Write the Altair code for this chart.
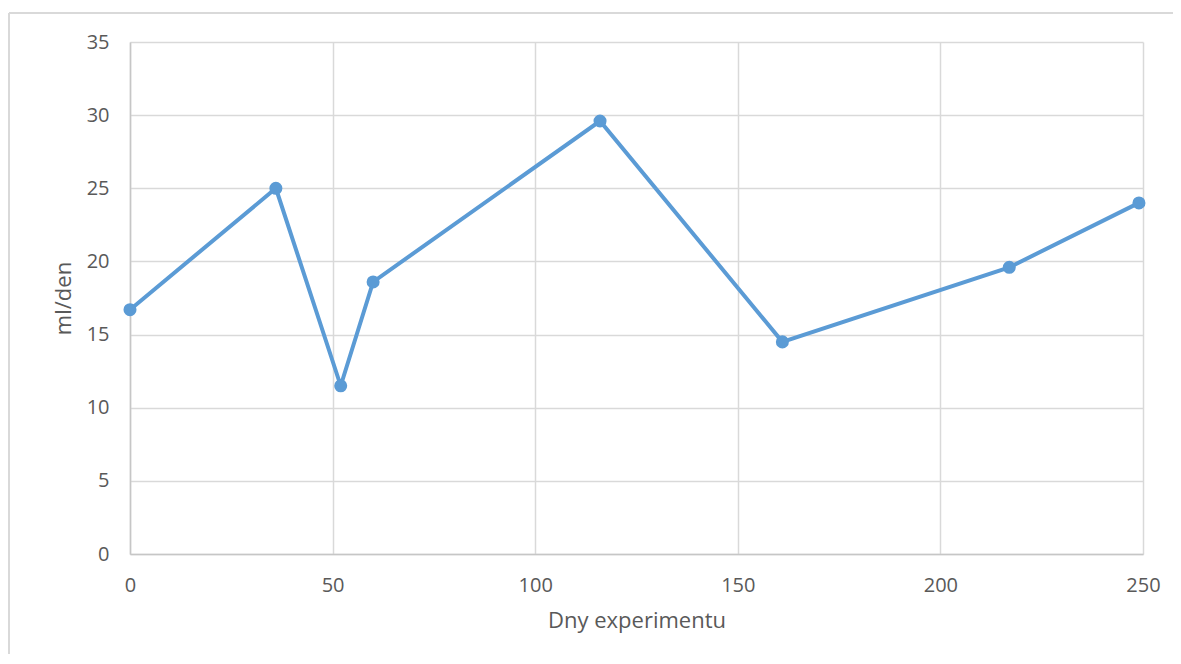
import altair as alt
import pandas as pd

days = [0, 36, 52, 60, 116, 161, 217, 249]
ml_per_day = [16.7, 25.0, 11.5, 18.6, 29.6, 14.5, 19.6, 24.0]

x_title = "Dny experimentu"
y_title = "ml/den"
x_ticks = [0, 50, 100, 150, 200, 250]
y_ticks = [0, 5, 10, 15, 20, 25, 30, 35]

df = pd.DataFrame({"day": days, "val": ml_per_day})

FONT = "Open Sans"
TXT = "#595959"
BLUE = "#5b9bd5"

x_enc = alt.X(
    "day:Q",
    scale=alt.Scale(domain=[0, 250], nice=False, zero=False),
    axis=alt.Axis(
        values=x_ticks, title=x_title, grid=True, gridColor="#d9d9d9", gridWidth=1.5,
        domainColor="#c6c6c6", domainWidth=1.5, ticks=False, tickSize=0,
        labelPadding=21, labelFont=FONT, labelFontSize=20, labelColor=TXT,
        titleFont=FONT, titleFontSize=22, titleColor=TXT, titleFontWeight="normal",
        titlePadding=15, labelFlush=False,
    ),
)
y_enc = alt.Y(
    "val:Q",
    scale=alt.Scale(domain=[0, 35], nice=False),
    axis=alt.Axis(
        values=y_ticks, title=y_title, grid=True, gridColor="#d9d9d9", gridWidth=1.5,
        domainColor="#c6c6c6", domainWidth=1.5, ticks=False, tickSize=0,
        labelPadding=21, labelFont=FONT, labelFontSize=20, labelColor=TXT,
        titleFont=FONT, titleFontSize=22, titleColor=TXT, titleFontWeight="normal",
        titlePadding=11,
    ),
)

frame_src = pd.DataFrame({"k": [0]})
frame_top = alt.Chart(frame_src).mark_rule(color="#d9d9d9", strokeWidth=2, clip=False).encode(
    x=alt.value(-121), x2=alt.value(2000), y=alt.value(-29)
)
frame_left = alt.Chart(frame_src).mark_rule(color="#d9d9d9", strokeWidth=2, clip=False).encode(
    x=alt.value(-121), y=alt.value(-29), y2=alt.value(2000)
)

line = alt.Chart(df).mark_line(color=BLUE, strokeWidth=4).encode(x=x_enc, y=y_enc)
pts = alt.Chart(df).mark_point(filled=True, color=BLUE, size=170, opacity=1).encode(
    x="day:Q", y="val:Q"
)

chart = (
    alt.layer(line, pts, frame_top, frame_left)
    .properties(
        width=1013,
        height=512,
        padding={"left": 122, "top": 34, "right": 30, "bottom": 100},
        autosize=alt.AutoSizeParams(type="none"),
        background="white",
    )
    .configure_view(stroke=None)
)

chart.save("out.html", embed_options={"renderer": "svg", "actions": False})
